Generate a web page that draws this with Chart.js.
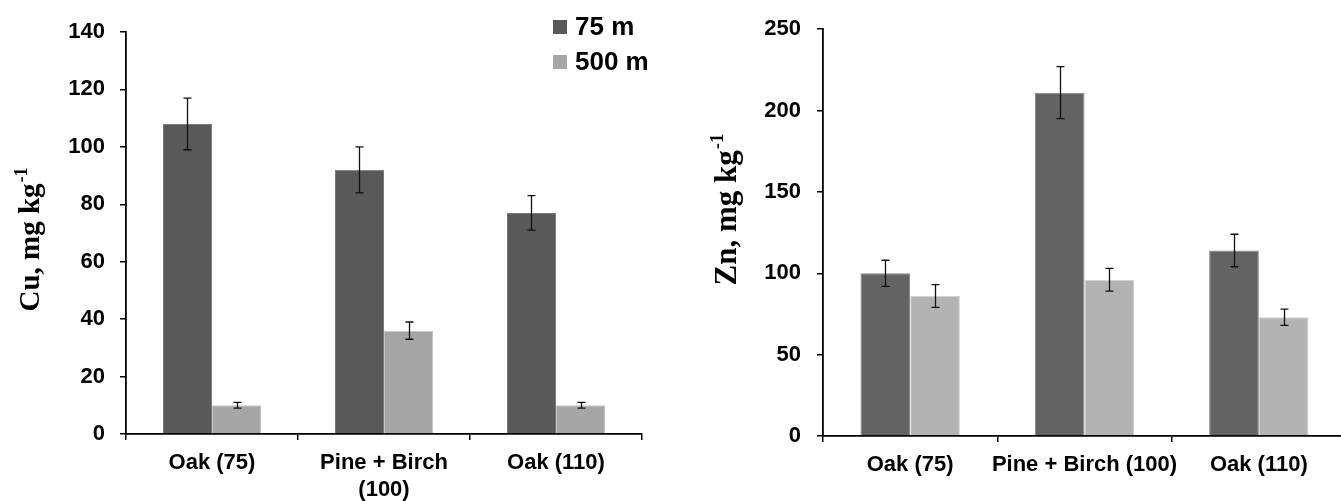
<!DOCTYPE html>
<html>
<head>
<meta charset="utf-8">
<script src="https://cdn.jsdelivr.net/npm/chart.js@4"></script>
<style>
  html, body { margin: 0; padding: 0; background: #fff; overflow: hidden; }
  #wrap { position: relative; width: 1341px; height: 501px; }
  canvas { position: absolute; top: 0; }
</style>
</head>
<body>
<div id="wrap">
  <canvas id="cuChart" width="670" height="501" style="left:0"></canvas>
  <canvas id="znChart" width="676" height="501" style="left:670px"></canvas>
</div>
<script>
// stand types, distance from source
const cuLabels = ['Oak (75)', ['Pine + Birch', '(100)'], 'Oak (110)'];
const znLabels = ['Oak (75)', 'Pine + Birch (100)', 'Oak (110)'];
const seriesNames = ['75 m', '500 m'];

// Cu, mg/kg
const cu75 = [108, 92, 77];
const cu75Err = [9, 8, 6];
const cu500 = [10, 36, 10];
const cu500Err = [1, 3, 1];

// Zn, mg/kg
const zn75 = [100, 211, 114];
const zn75Err = [8, 16, 10];
const zn500 = [86, 96, 73];
const zn500Err = [7, 7, 5];

const cuTicks = { min: 0, max: 140, step: 20 };
const znTicks = { min: 0, max: 250, step: 50 };

Chart.defaults.font.family = "'Liberation Sans', Arial, sans-serif";
Chart.defaults.font.weight = 'bold';
Chart.defaults.color = '#000';

// whiskers drawn from the y scale of each chart
const errorBars = {
    id: 'errorBars',
    afterDatasetsDraw(chart) {
        const ctx = chart.ctx;
        const y = chart.scales.y;
        ctx.save();
        ctx.strokeStyle = '#111';
        ctx.lineWidth = 1.3;
        chart.data.datasets.forEach((ds, i) => {
            const meta = chart.getDatasetMeta(i);
            meta.data.forEach((bar, j) => {
                const v = ds.data[j];
                const e = ds.errors[j];
                const top = y.getPixelForValue(v + e);
                const bot = y.getPixelForValue(v - e);
                const x = Math.round(bar.x) + 0.5;
                ctx.beginPath();
                ctx.moveTo(x, top);
                ctx.lineTo(x, bot);
                ctx.moveTo(x - 4, top);
                ctx.lineTo(x + 4, top);
                ctx.moveTo(x - 4, bot);
                ctx.lineTo(x + 4, bot);
                ctx.stroke();
            });
        });
        ctx.restore();
    }
};

// rotated axis title with a superscript exponent
const yTitle = {
    id: 'yTitle',
    afterDraw(chart, args, opts) {
        if (!opts.text) return;
        const ctx = chart.ctx;
        const main = 'bold ' + opts.size + "px 'Liberation Serif', 'Times New Roman', serif";
        const sup = 'bold ' + Math.round(opts.size * 0.62) + "px 'Liberation Serif', 'Times New Roman', serif";
        ctx.save();
        ctx.font = main;
        const w1 = ctx.measureText(opts.text).width;
        ctx.font = sup;
        const w2 = ctx.measureText(opts.sup).width;
        ctx.translate(opts.x, opts.y);
        ctx.rotate(-Math.PI / 2);
        ctx.fillStyle = '#000';
        ctx.textBaseline = 'alphabetic';
        ctx.textAlign = 'left';
        const start = -(w1 + w2) / 2;
        ctx.font = main;
        ctx.fillText(opts.text, start, 0);
        ctx.font = sup;
        ctx.fillText(opts.sup, start + w1 + 1, -opts.size * 0.42);
        ctx.restore();
    }
};

// legend boxes at the top right
const boxLegend = {
    id: 'boxLegend',
    afterDraw(chart, args, opts) {
        if (!opts.x) return;
        const ctx = chart.ctx;
        ctx.save();
        ctx.font = "bold 26px 'Liberation Sans', Arial, sans-serif";
        ctx.textBaseline = 'middle';
        chart.data.datasets.forEach((ds, i) => {
            const cy = opts.rows[i];
            ctx.fillStyle = ds.backgroundColor;
            ctx.fillRect(opts.x, cy - 7, 14, 14);
            ctx.fillStyle = '#000';
            ctx.fillText(ds.label, opts.x + 22, cy + 1);
        });
        ctx.restore();
    }
};

function makeChart(id, labels, near, nearErr, far, farErr, ticks, cfg) {
    const ctx = document.getElementById(id).getContext('2d');
    return new Chart(ctx, {
        type: 'bar',
        data: {
            labels: labels,
            datasets: [{
                label: seriesNames[0],
                data: near,
                errors: nearErr,
                backgroundColor: cfg.dark,
                borderColor: cfg.darkEdge,
                borderWidth: 1,
                barPercentage: 1,
                categoryPercentage: 0.57
            }, {
                label: seriesNames[1],
                data: far,
                errors: farErr,
                backgroundColor: cfg.light,
                borderColor: cfg.lightEdge,
                borderWidth: 1,
                barPercentage: 1,
                categoryPercentage: 0.57
            }]
        },
        options: {
            responsive: false,
            animation: false,
            layout: {
                padding: { top: cfg.top, right: cfg.right, left: 0, bottom: 0 }
            },
            plugins: {
                legend: { display: false },
                tooltip: { enabled: false },
                yTitle: cfg.title,
                boxLegend: cfg.legend || {}
            },
            scales: {
                x: {
                    grid: {
                        drawOnChartArea: false,
                        drawTicks: true,
                        tickLength: 6,
                        color: '#000',
                        lineWidth: 1.5
                    },
                    border: { color: '#000', width: 1.8 },
                    ticks: {
                        font: { size: 22, weight: 'bold' },
                        padding: 10,
                        maxRotation: 0,
                        autoSkip: false
                    },
                    afterFit(scale) { scale.height = cfg.xHeight; }
                },
                y: {
                    min: ticks.min,
                    max: ticks.max,
                    grid: {
                        drawOnChartArea: false,
                        drawTicks: true,
                        tickLength: 6,
                        color: '#000',
                        lineWidth: 1.5
                    },
                    border: { color: '#000', width: 1.8 },
                    ticks: {
                        stepSize: ticks.step,
                        font: { size: 22, weight: 'bold' },
                        padding: cfg.tickPad
                    },
                    afterFit(scale) { scale.width = cfg.yWidth; }
                }
            }
        },
        plugins: [errorBars, yTitle, boxLegend]
    });
}

makeChart('cuChart', cuLabels, cu75, cu75Err, cu500, cu500Err, cuTicks, {
    dark: '#595959', darkEdge: '#7a7a7a',
    light: '#a6a6a6', lightEdge: '#c4c4c4',
    top: 32, right: 28, xHeight: 67, yWidth: 126, tickPad: 15,
    title: { text: 'Cu, mg kg', sup: '-1', x: 39, y: 240, size: 29 },
    legend: { x: 553, rows: [27, 62] }
});

makeChart('znChart', znLabels, zn75, zn75Err, zn500, zn500Err, znTicks, {
    dark: '#636363', darkEdge: '#858585',
    light: '#b3b3b3', lightEdge: '#d0d0d0',
    top: 21, right: 0, xHeight: 65, yWidth: 153, tickPad: 16,
    title: { text: 'Zn, mg kg', sup: '-1', x: 66, y: 210, size: 31 }
});
</script>
</body>
</html>
